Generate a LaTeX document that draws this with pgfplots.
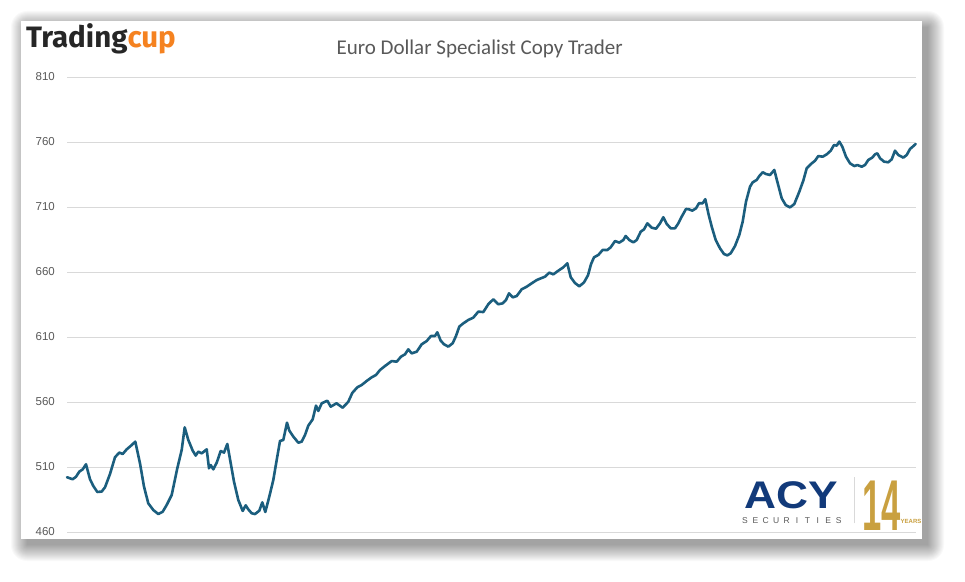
\documentclass[border=0pt]{standalone}
\usepackage{pgfplots}
\pgfplotsset{compat=1.18}
\usepackage{fontspec}
\setmainfont{Liberation Sans}
\newfontfamily\titlefont{Carlito}
\newfontfamily\logofont{Fira Sans}
\definecolor{linecol}{HTML}{1B5E7E}
\definecolor{gridcol}{HTML}{D9D9D9}
\definecolor{labcol}{HTML}{595959}
\definecolor{tcorange}{HTML}{F58220}
\definecolor{tcdark}{HTML}{262626}
\definecolor{acynavy}{HTML}{123A7A}
\definecolor{gold}{HTML}{C9A040}
\begin{document}
\begin{tikzpicture}[x=1pt,y=1pt]
\path[use as bounding box] (0,0) rectangle (965,581);
\fill[white] (0,0) rectangle (965,581);
% shadow
\foreach \e in {0,1,...,16}{
  \fill[black,opacity=0.022,rounded corners=\e pt] (27-\e,36-\e) rectangle (928+\e,554+\e);
}
\fill[white] (21,42) rectangle (922,560);
\begin{axis}[
  at={(67pt,49pt)}, anchor=south west,
  scale only axis, width=849pt, height=455pt,
  xmin=67, xmax=916, ymin=460, ymax=810,
  ytick={460,510,...,810}, xtick=\empty,
  axis line style={draw=none},
  major tick length=0pt,
  ymajorgrids, grid style={gridcol, line width=0.9pt},
  /pgf/number format/assume math mode=true,
  yticklabel style={anchor=east, inner sep=0pt, xshift=-12pt, text=labcol, font=\fontsize{11.5}{13}\selectfont},
  clip=false,
]
\addplot[linecol, line width=2.6pt, line join=round, line cap=round] coordinates {
(67,502.1)(72.7,500.6)(76,502.5)(79.3,506.4)(82.7,508.2)(86,512.1)(90,500.6)(93.3,495.4)(97.3,490.8)(101.7,491.1)(105,494.4)(110,504.6)(115,517.5)(119.3,521.1)(122.7,520)(126.7,523.6)(130.7,526.2)(135.3,529.5)(140,512.8)(144,494.9)(148.3,482)(153.3,476.9)(158.3,473.8)(162.7,475.6)(166.7,480.8)(171.7,488.5)(177.3,509)(181.7,523.1)(184.7,540.5)(188.3,530.8)(192.7,522.6)(195.7,518.8)(198.3,521.8)(201.7,520.5)(206.7,523.6)(209,509)(210.7,511.5)(213.3,508.2)(216.7,513.3)(220.7,522.3)(224,521.1)(227.3,527.7)(230.7,513)(234,498.7)(238.3,484.6)(242.7,476.2)(245.7,480.5)(248.3,477.4)(251.7,474.4)(255,473.8)(259.3,476.4)(262.3,482.8)(265.3,475.4)(269.3,487.2)(273.3,500)(276.7,515.4)(280,530)(283.3,530.8)(287,544.1)(289.3,538)(293.3,533.4)(298.3,528.7)(301.7,529.5)(305,534.6)(308.3,541.8)(312.7,546.7)(316,557.2)(318.3,553.1)(321.7,559)(327.3,561)(330.7,556.4)(336.5,559)(342.7,555.6)(348.3,560.2)(352.3,567)(357.3,571.3)(361.7,573.1)(366.7,576.2)(371.7,579)(376,580.8)(380,584.6)(385,587.7)(391.7,591.5)(396.7,591)(401,594.9)(405,596.7)(408.3,600.5)(411.7,597.4)(416.7,598.7)(421.7,604.4)(426.7,606.9)(431,610.8)(435,610.8)(437.3,613.6)(440.7,607.2)(444,604.4)(448.3,602.6)(452.7,605.2)(456,610.8)(459.3,618)(463.3,620.5)(468.3,623.1)(473.3,624.9)(478.3,629.5)(483.3,629.2)(488.3,635.2)(493.3,639)(498.3,635.2)(502.7,635.9)(506,638.5)(509,643.6)(512.7,640.5)(516.7,641.5)(521.7,646.7)(526.7,648.7)(531.7,651.3)(536.7,653.8)(540.7,655.1)(545,656.4)(549.3,659.5)(553.3,658.2)(558.3,661)(563.3,663.6)(567.3,666.7)(570.7,656)(575,651.5)(579.3,649)(584,652)(588,657.5)(591,666)(594,671.3)(598.3,673.1)(602.7,677)(607.3,676.9)(610.7,679)(615,683.8)(619.3,682.6)(623.3,684.6)(625.7,687.7)(629.3,684.6)(633.3,682.8)(636.7,684.6)(640.7,691)(644,692.8)(647.3,697.4)(651.7,694.1)(656,693.3)(660,697.4)(663.3,702.1)(666.7,697)(670.7,693.6)(675,693.6)(678.3,697.4)(681.7,702.6)(686,708.5)(689,708.2)(692.3,707.2)(696,709)(699,712.9)(702.7,712.9)(705.3,716)(708.3,705.2)(711.7,694.9)(715.7,684.6)(720,678.2)(724,673.8)(727.3,672.8)(730.7,674.4)(735,680)(739.3,688.5)(742.7,698.8)(746,714.1)(750,725.6)(752.7,729)(756.7,730.8)(759.3,733.8)(762.7,736.7)(766,735.4)(770,734.6)(774.3,738.5)(777.3,729.5)(781.7,716.7)(785.7,711.5)(790,709.7)(794.3,712.3)(799.3,721.8)(803.3,730.3)(806.7,739.8)(811,743.1)(815,745.6)(818.3,749.2)(822.7,748.7)(826.7,750.5)(830.7,753.3)(834,757.7)(836.7,757.2)(839.3,760.3)(842.3,756.4)(846,748.7)(850,743.6)(854.3,741.5)(857.3,742.3)(861.7,741)(865,742.3)(868.3,746.2)(872.3,748)(875,750.5)(877.3,751.3)(880,747.5)(884,744.9)(888.3,744.4)(891.7,746.7)(895,753.3)(898.3,750)(903.3,748)(906.7,750)(910,754.6)(912.7,756.4)(915.7,758.5)
};
\end{axis}
% title
\node[anchor=base, inner sep=0pt, text=labcol] at (479.7,526.7) {\titlefont\fontsize{21}{24}\selectfont Euro Dollar Specialist Copy Trader};
% Tradingcup logo
\node[anchor=base west, inner sep=0pt] at (26,533.3) {\logofont\bfseries\fontsize{29.5}{32}\selectfont\textcolor{tcdark}{Trading}\textcolor{tcorange}{cup}};
% ACY logo
\node[anchor=base west, inner sep=0pt, text=acynavy, xscale=1.15] at (744,72.7) {\bfseries\fontsize{38.5}{40}\selectfont ACY};
\foreach \l [count=\i from 0] in {S,E,C,U,R,I,T,I,E,S}{
  \node[anchor=base, inner sep=0pt, text=labcol] at (745+\i*10.4,57.7) {\fontsize{8.5}{9}\selectfont \l};
}
\draw[gridcol, line width=0.8pt] (854.3,57.7) -- (854.3,104.3);
\node[anchor=base west, inner sep=0pt, text=gold, xscale=0.48] at (862,51) {\bfseries\fontsize{72}{74}\selectfont 14};
\node[anchor=base west, inner sep=0pt, text=gold] at (900.5,57.5) {\bfseries\fontsize{6}{7}\selectfont YEARS};
\end{tikzpicture}
\end{document}
